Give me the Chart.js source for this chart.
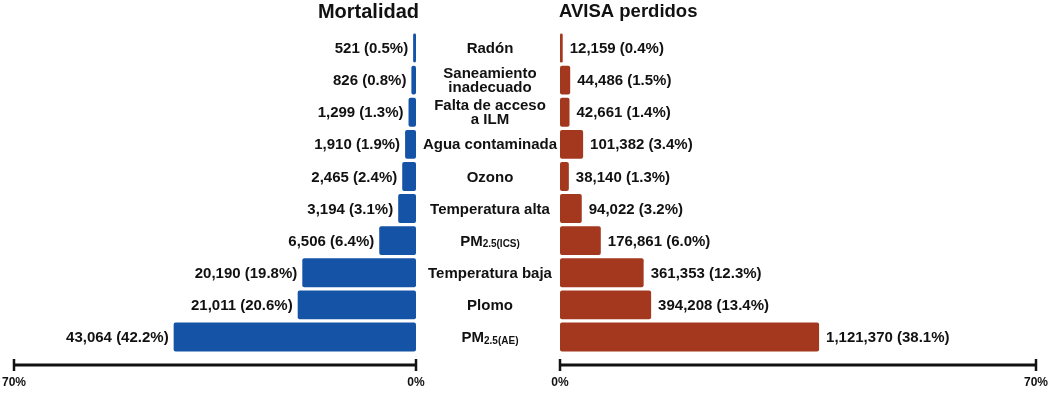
<!DOCTYPE html>
<html>
<head>
<meta charset="utf-8">
<script src="https://cdn.jsdelivr.net/npm/chart.js@4.4.1/dist/chart.umd.min.js"></script>
<style>
  html, body { margin: 0; padding: 0; background: #ffffff; }
  #wrap { position: relative; width: 1053px; height: 393px; }
  canvas { position: absolute; left: 0; top: 0; }
</style>
</head>
<body>
<div id="wrap">
  <canvas id="left" width="1053" height="393"></canvas>
  <canvas id="right" width="1053" height="393"></canvas>
</div>
<script>
// ---- data ----
const categories = [
  ['Radón'],
  ['Saneamiento', 'inadecuado'],
  ['Falta de acceso', 'a ILM'],
  ['Agua contaminada'],
  ['Ozono'],
  ['Temperatura alta'],
  ['PM_{2.5(ICS)}'],
  ['Temperatura baja'],
  ['Plomo'],
  ['PM_{2.5(AE)}']
];
const mortalidadCount = [521, 826, 1299, 1910, 2465, 3194, 6506, 20190, 21011, 43064];
const mortalidadPct   = [0.5, 0.8, 1.3, 1.9, 2.4, 3.1, 6.4, 19.8, 20.6, 42.2];
const avisaCount = [12159, 44486, 42661, 101382, 38140, 94022, 176861, 361353, 394208, 1121370];
const avisaPct   = [0.4, 1.5, 1.4, 3.4, 1.3, 3.2, 6.0, 12.3, 13.4, 38.1];
const axisTicks = [0, 70];
const titles = ['Mortalidad', 'AVISA perdidos'];

const FONT = '"Liberation Sans", Arial, Helvetica, sans-serif';
const BLUE = '#1553a6';
const RED = '#a3381f';
const INK = '#111111';

Chart.defaults.font.family = FONT;

function fmt(n) { return n.toLocaleString('en-US'); }

function drawAxis(chart, ctx) {
  const xs = chart.scales.x;
  const y = 365;
  const a = xs.getPixelForValue(axisTicks[0]);
  const b = xs.getPixelForValue(axisTicks[1]);
  ctx.save();
  ctx.strokeStyle = INK;
  ctx.lineWidth = 3;
  ctx.beginPath();
  ctx.moveTo(Math.min(a, b), y);
  ctx.lineTo(Math.max(a, b), y);
  ctx.stroke();
  ctx.lineWidth = 2.5;
  [a, b].forEach(px => {
    ctx.beginPath();
    ctx.moveTo(px, y - 6);
    ctx.lineTo(px, y + 6);
    ctx.stroke();
  });
  ctx.fillStyle = INK;
  ctx.font = 'bold 12px ' + FONT;
  ctx.textAlign = 'center';
  ctx.textBaseline = 'middle';
  axisTicks.forEach(t => {
    ctx.fillText(t + '%', xs.getPixelForValue(t), 383);
  });
  ctx.restore();
}

function drawValueLabels(chart, ctx, counts, pcts, side) {
  const meta = chart.getDatasetMeta(0);
  ctx.save();
  ctx.fillStyle = INK;
  ctx.font = 'bold 15px ' + FONT;
  ctx.textBaseline = 'middle';
  meta.data.forEach((el, i) => {
    const txt = fmt(counts[i]) + ' (' + pcts[i].toFixed(1) + '%)';
    if (side === 'left') {
      ctx.textAlign = 'right';
      ctx.fillText(txt, el.x - 5, el.y + 1);
    } else {
      ctx.textAlign = 'left';
      ctx.fillText(txt, el.x + 7, el.y + 1);
    }
  });
  ctx.restore();
}

let leftChart = null;

const leftPlugin = {
  id: 'leftDecor',
  afterDatasetsDraw(chart) {
    const ctx = chart.ctx;
    drawValueLabels(chart, ctx, mortalidadCount, mortalidadPct, 'left');
    drawAxis(chart, ctx);
    const xs = chart.scales.x;
    ctx.save();
    ctx.fillStyle = INK;
    ctx.font = 'bold 20px ' + FONT;
    ctx.textAlign = 'right';
    ctx.textBaseline = 'middle';
    ctx.fillText(titles[0], xs.getPixelForValue(0) + 3, 12);
    ctx.restore();
  }
};

const rightPlugin = {
  id: 'rightDecor',
  afterDatasetsDraw(chart) {
    const ctx = chart.ctx;
    drawValueLabels(chart, ctx, avisaCount, avisaPct, 'right');
    drawAxis(chart, ctx);
    const xs = chart.scales.x;
    const ys = chart.scales.y;
    ctx.save();
    ctx.fillStyle = INK;
    ctx.font = 'bold 18.5px ' + FONT;
    ctx.textAlign = 'left';
    ctx.textBaseline = 'middle';
    ctx.fillText(titles[1], xs.getPixelForValue(0) - 1, 12);

    // category labels in the middle
    const leftZero = leftChart ? leftChart.scales.x.getPixelForValue(0) : 416;
    const cx = (leftZero + xs.getPixelForValue(0)) / 2 + 2;
    ctx.textBaseline = 'middle';
    categories.forEach((lines, i) => {
      const cy = ys.getPixelForValue(i) + 1;
      const n = lines.length;
      lines.forEach((line, j) => {
        const ly = cy + (j - (n - 1) / 2) * 14;
        const m = line.match(/^(.*)_\{(.*)\}$/);
        if (m) {
          ctx.font = 'bold 15px ' + FONT;
          const w1 = ctx.measureText(m[1]).width;
          ctx.font = 'bold 10px ' + FONT;
          const w2 = ctx.measureText(m[2]).width;
          const x0 = cx - (w1 + w2) / 2;
          ctx.textAlign = 'left';
          ctx.font = 'bold 15px ' + FONT;
          ctx.fillText(m[1], x0, ly);
          ctx.font = 'bold 10px ' + FONT;
          ctx.fillText(m[2], x0 + w1, ly + 3);
        } else {
          ctx.font = 'bold 15px ' + FONT;
          ctx.textAlign = 'center';
          ctx.fillText(line, cx, ly);
        }
      });
    });
    ctx.restore();
  }
};

function baseOptions(reverse, padding) {
  return {
    indexAxis: 'y',
    responsive: false,
    animation: false,
    devicePixelRatio: 1,
    layout: { padding: padding },
    plugins: { legend: { display: false }, tooltip: { enabled: false }, title: { display: false } },
    scales: {
      x: { type: 'linear', min: axisTicks[0], max: axisTicks[1], reverse: reverse, display: false },
      y: { type: 'category', display: false, offset: true }
    }
  };
}

const labelsFlat = categories.map(l => l.join(' '));

leftChart = new Chart(document.getElementById('left'), {
  type: 'bar',
  data: {
    labels: labelsFlat,
    datasets: [{
      data: mortalidadPct,
      backgroundColor: BLUE,
      borderWidth: 0,
      borderRadius: 2,
      borderSkipped: false,
      barPercentage: 0.9,
      categoryPercentage: 1.0
    }]
  },
  options: baseOptions(true, { left: 14, right: 637, top: 32, bottom: 40 }),
  plugins: [leftPlugin]
});

new Chart(document.getElementById('right'), {
  type: 'bar',
  data: {
    labels: labelsFlat,
    datasets: [{
      data: avisaPct,
      backgroundColor: RED,
      borderWidth: 0,
      borderRadius: 2,
      borderSkipped: false,
      barPercentage: 0.9,
      categoryPercentage: 1.0
    }]
  },
  options: baseOptions(false, { left: 560, right: 17, top: 32, bottom: 40 }),
  plugins: [rightPlugin]
});
</script>
</body>
</html>
